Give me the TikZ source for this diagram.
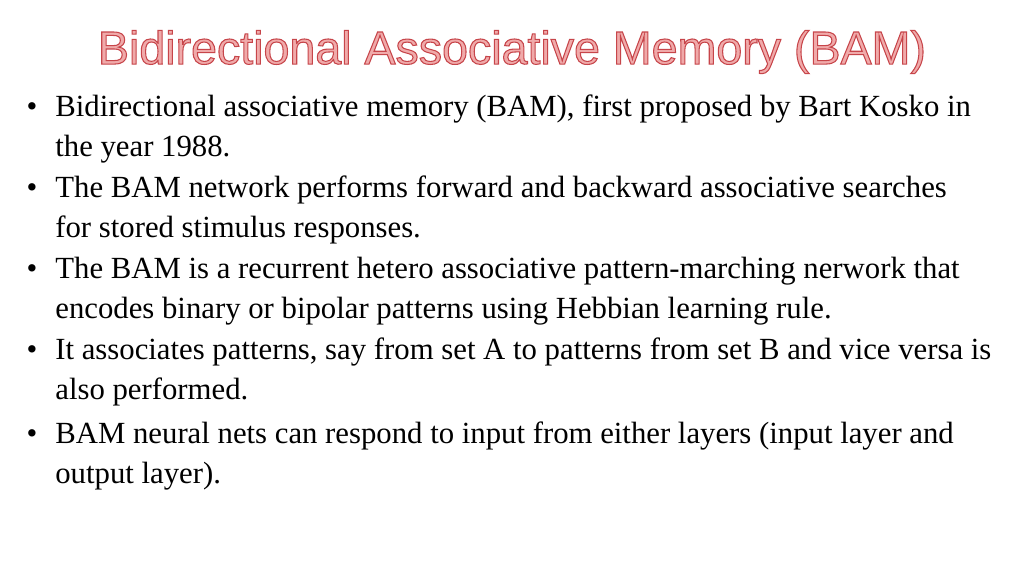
\documentclass[tikz,border=0pt]{standalone}
\usepackage{fontspec}
\setmainfont{Liberation Serif}
\newfontfamily\titlefont{Liberation Sans}
\usetikzlibrary{positioning}
\definecolor{titlefill}{RGB}{240,170,170}
\begin{document}
\begin{tikzpicture}[
        every node/.style = {inner sep=0pt},
        item/.style = {anchor=base west, align=left,
          font=\fontsize{17.5}{22.7}\selectfont},
        dot/.style = {anchor=base, font=\fontsize{17.5}{22.7}\selectfont}
        ]
        \useasboundingbox[fill=white] (0,0) rectangle (20.48,11.52);
        % title
        \node (title) at (10.24,10.48) {\titlefont\fontsize{26.5}{30}\selectfont
          \color{titlefill}\special{pdf:code 2 Tr 0.6 w 0.78 0.27 0.29 RG}Bidirectional Associative Memory (BAM)\special{pdf:code 0 Tr}};
        % bullets (base = second line)
        \node[item] (b1) at (1.1,8.39) {Bidirectional associative memory (BAM), first proposed by Bart Kosko in\\the year 1988.};
        \node[item] (b2) at (1.1,6.77) {The BAM network performs forward and backward associative searches\\for stored stimulus responses.};
        \node[item] (b3) at (1.1,5.15) {The BAM is a recurrent hetero associative pattern-marching nerwork that\\encodes binary or bipolar patterns using Hebbian learning rule.};
        \node[item] (b4) at (1.1,3.53) {It associates patterns, say from set A to patterns from set B and vice versa is\\also performed.};
        \node[item] (b5) at (1.1,1.85) {BAM neural nets can respond to input from either layers (input layer and\\output layer).};
        \foreach \i in {1,...,5}
          \node[dot] (d\i) at ([xshift=-0.46cm,yshift=0.8cm]b\i.base west) {\textbullet};
\end{tikzpicture}
\end{document}
